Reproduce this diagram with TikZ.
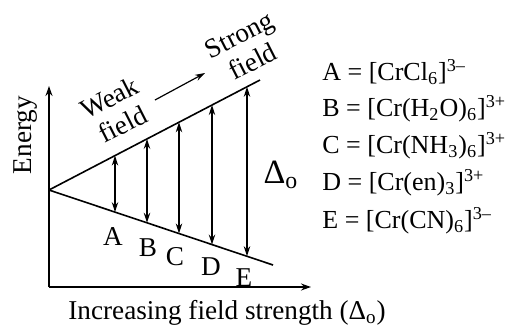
\documentclass[tikz,border=0pt]{standalone}
\usepackage{fontspec}
\setmainfont{Liberation Serif}
\usetikzlibrary{arrows.meta}

\begin{document}
\begin{tikzpicture}[x=0.5pt, y=-0.5pt,
        font=\fontsize{13.6}{15}\selectfont,
        axisline/.style={line width=0.75pt, -{Stealth[length=5pt,width=3.5pt]}},
        levelline/.style={line width=0.8pt},
        splitarrow/.style={line width=0.6pt, {Stealth[length=5pt,width=3.2pt]}-{Stealth[length=5pt,width=3.2pt]}},
        keyentry/.style={anchor=west, inner sep=0pt, font=\fontsize{13}{15}\selectfont}]
        \useasboundingbox (0,0) rectangle (510,327);

        % -- axes ------------------------------------------------------------------
        \coordinate (orig) at (49,287);
        \coordinate (ytop) at (49,86);
        \coordinate (xend) at (311,287);
        \draw[axisline] (orig) -- (ytop);
        \draw[axisline] (orig) -- (xend);
        \node[rotate=90] (energy) at (26,135) {Energy};
        \node[anchor=west, inner sep=0pt] (xlabel) at (68,313) {Increasing field strength (Δ\textsubscript{o})};

        % -- splitting of the levels ------------------------------------------------
        \coordinate (split) at (49,190);
        \coordinate (egend) at (260,80);
        \coordinate (tgend) at (273,265);
        \draw[levelline] (split) -- (egend);
        \draw[levelline] (split) -- (tgend);

        % -- Delta_o arrows ---------------------------------------------------------
        \foreach \n/\px in {a/115, b/147, c/179, d/212, e/247} {
            \coordinate (up-\n) at (\px, {190-0.5213*(\px-49)});
            \coordinate (lo-\n) at (\px, {190+0.3348*(\px-49)});
            \draw[splitarrow] (lo-\n) -- (up-\n);
        }
        \node (delta) at (281,175) {\fontsize{17}{18}\selectfont Δ\textsubscript{o}};

        % -- complex labels ---------------------------------------------------------
        \foreach \n/\lx/\ly in {A/113/237, B/148/248, C/175/257, D/211/267, E/244/278} {
            \node (lbl\n) at (\lx,\ly) {\n};
        }

        % -- weak -> strong ---------------------------------------------------------
        \node[rotate=27, align=center] (weak) at (116,111) {Weak\\field};
        \node[rotate=27, align=center] (strong) at (246,48) {Strong\\field};
        \coordinate (wsa) at (155,100);
        \coordinate (wsb) at (205,73);
        \draw[line width=0.6pt, -{Stealth[length=5pt,width=3.2pt]}] (wsa) -- (wsb);

        % -- key --------------------------------------------------------------------
        \node[keyentry] (keyA) at (322,72)  {A = [CrCl\textsubscript{6}]\textsuperscript{3–}};
        \node[keyentry] (keyB) at (322,109) {B = [Cr(H\textsubscript{2}O)\textsubscript{6}]\textsuperscript{3+}};
        \node[keyentry] (keyC) at (322,146) {C = [Cr(NH\textsubscript{3})\textsubscript{6}]\textsuperscript{3+}};
        \node[keyentry] (keyD) at (322,183) {D = [Cr(en)\textsubscript{3}]\textsuperscript{3+}};
        \node[keyentry] (keyE) at (322,221) {E = [Cr(CN)\textsubscript{6}]\textsuperscript{3–}};
    \end{tikzpicture}
\end{document}
